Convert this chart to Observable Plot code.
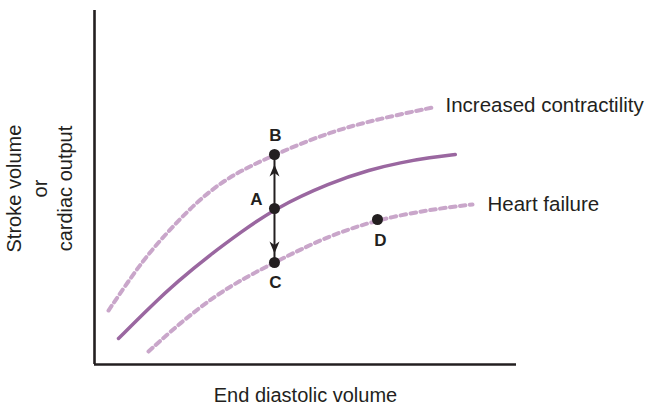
<!DOCTYPE html>
<html>
<head>
<meta charset="utf-8">
<script src="https://cdn.jsdelivr.net/npm/d3@7"></script>
<script src="https://cdn.jsdelivr.net/npm/@observablehq/plot@0.6"></script>
<style>
  html, body { margin: 0; padding: 0; background: #fff; }
  #chart svg { display: block; }
</style>
</head>
<body>
<div id="chart"></div>
<script>
// Frank–Starling style curves (arbitrary units, 0–100 on both axes)
const normalX = [5.69, 13.27, 19.67, 27.49, 34.6, 42.65, 55.92, 65.4, 72.5, 79.6, 85.5];
const normalY = [7.34, 16.38, 23.45, 31.07, 37.29, 44.07, 51.41, 55.08, 57.06, 58.47, 59.32];

const contractX = [3.32, 7.82, 12.56, 19.19, 25.12, 32.23, 42.65, 55.92, 67.77, 80.09];
const contractY = [15.25, 23.16, 31.07, 39.83, 46.89, 53.39, 59.32, 65.82, 69.49, 72.6];

const failureX = [12.8, 20.38, 28.67, 35.78, 42.65, 48.82, 55.92, 67.06, 79.62, 89.57];
const failureY = [3.67, 11.86, 19.49, 24.58, 28.81, 32.49, 36.44, 40.96, 43.79, 45.2];

const pointNames = ["A", "B", "C", "D"];
const pointX = [42.65, 42.65, 42.65, 67.06];
const pointY = [44.07, 59.32, 28.81, 40.96];

const curveLabels = ["Increased contractility", "Heart failure"];
const xLabel = "End diastolic volume";
const yLabel = "Stroke volume\nor\ncardiac output";

const zip = (xs, ys) => xs.map((x, i) => ({x, y: ys[i]}));
const normal = zip(normalX, normalY);
const contract = zip(contractX, contractY);
const failure = zip(failureX, failureY);
const pts = pointNames.map((name, i) => ({name, x: pointX[i], y: pointY[i]}));
const P = Object.fromEntries(pts.map(d => [d.name, d]));

const solidColor = "#9a67a0";
const dashColor = "#c9a6ca";
const ink = "#231f20";
const font = "'Liberation Sans', Arial, Helvetica, sans-serif";

// notched arrowhead symbols (tip at the symbol origin)
const headUp = {draw(ctx) { ctx.moveTo(0, 0); ctx.lineTo(5, 12); ctx.lineTo(0, 8.5); ctx.lineTo(-5, 12); ctx.closePath(); }};
const headDown = {draw(ctx) { ctx.moveTo(0, 0); ctx.lineTo(5, -12); ctx.lineTo(0, -8.5); ctx.lineTo(-5, -12); ctx.closePath(); }};

const chart = Plot.plot({
  width: 650,
  height: 406,
  marginLeft: 94,
  marginRight: 134,
  marginTop: 10,
  marginBottom: 42,
  x: {domain: [0, 100], axis: null},
  y: {domain: [0, 100], axis: null},
  style: {fontFamily: font, background: "#fff", overflow: "visible"},
  marks: [
    Plot.ruleX([0], {stroke: ink, strokeWidth: 2.6}),
    Plot.ruleY([0], {stroke: ink, strokeWidth: 2.6}),
    Plot.line(contract, {x: "x", y: "y", curve: "basis", stroke: dashColor, strokeWidth: 4, strokeDasharray: "5.5,4.5"}),
    Plot.line(failure, {x: "x", y: "y", curve: "basis", stroke: dashColor, strokeWidth: 4, strokeDasharray: "5.5,4.5"}),
    Plot.line(normal, {x: "x", y: "y", curve: "basis", stroke: solidColor, strokeWidth: 3.5}),
    Plot.link([{from: P.A, to: P.B}, {from: P.A, to: P.C}], {
      x1: d => d.from.x, y1: d => d.from.y, x2: d => d.to.x, y2: d => d.to.y,
      stroke: ink, strokeWidth: 2
    }),
    Plot.dot([P.B], {x: "x", y: "y", dy: 10, symbol: headUp, fill: ink, stroke: "none"}),
    Plot.dot([P.C], {x: "x", y: "y", dy: -9, symbol: headDown, fill: ink, stroke: "none"}),
    Plot.dot(pts, {x: "x", y: "y", r: 5.5, fill: ink}),
    Plot.text([P.B], {x: "x", y: "y", text: "name", dx: 1, dy: -19, fontSize: 17, fontWeight: "bold", fill: ink}),
    Plot.text([P.C], {x: "x", y: "y", text: "name", dx: 1, dy: 20, fontSize: 17, fontWeight: "bold", fill: ink}),
    Plot.text([P.D], {x: "x", y: "y", text: "name", dx: 3, dy: 21, fontSize: 17, fontWeight: "bold", fill: ink}),
    Plot.text([P.A], {x: "x", y: "y", text: "name", dx: -18, dy: -9, fontSize: 17, fontWeight: "bold", fill: ink}),
    Plot.text([contract[contract.length - 1]], {x: "x", y: "y", text: [curveLabels[0]], textAnchor: "start", dx: 13, dy: -2, fontSize: 20.5, fill: ink}),
    Plot.text([failure[failure.length - 1]], {x: "x", y: "y", text: [curveLabels[1]], textAnchor: "start", dx: 15, dy: 0, fontSize: 20.5, fill: ink}),
    Plot.text([{x: 50, y: -8.8}], {x: "x", y: "y", text: [xLabel], fontSize: 20, fill: ink}),
    Plot.text([{x: -12.8, y: 49.7}], {x: "x", y: "y", text: [yLabel], rotate: -90, dx: -2, lineHeight: 1.27, fontSize: 20, fill: ink})
  ]
});
document.getElementById("chart").appendChild(chart);
</script>
</body>
</html>
